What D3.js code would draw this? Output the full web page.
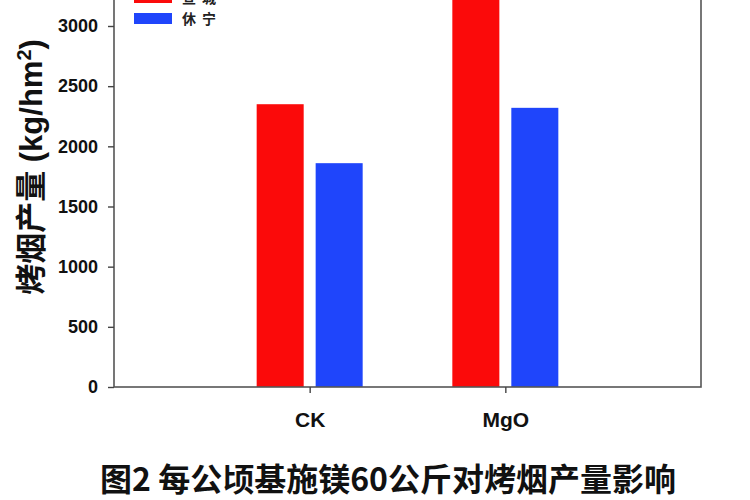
<!DOCTYPE html>
<html>
<head>
<meta charset="utf-8">
<script src="https://cdn.jsdelivr.net/npm/d3@7"></script>
<style>
  body { margin: 0; background: #fff; }
  svg { display: block; }
</style>
</head>
<body>
<div id="chart"></div>
<script>
const categories = ['CK', 'MgO'];
const seriesNames = ['宣城', '休宁'];
const xuanchengValues = [2350, 3400];
const xiuningValues = [1860, 2320];
const yTicks = [0, 500, 1000, 1500, 2000, 2500, 3000];
const titleText = '图2 每公顷基施镁60公斤对烤烟产量影响';

const color = d3.scaleOrdinal()
    .domain(seriesNames)
    .range(['#fb0a0a', '#1f45fb']);

const width = 750, height = 500;
const margin = { left: 114, right: 49, bottom: 113 };

const svg = d3.select('#chart')
    .append('svg')
    .attr('width', width)
    .attr('height', height);

// plot area is cropped at the top, 3000 sits near y=26
const y = d3.scaleLinear()
    .domain([0, 3500])
    .range([height - margin.bottom, height - margin.bottom - 3500 * (361 / 3000)]);

const x = d3.scalePoint()
    .domain(categories)
    .range([margin.left, width - margin.right])
    .padding(1);

const xSub = d3.scaleBand()
    .domain(seriesNames)
    .range([-53, 53])
    .paddingInner(0.203);

const rows = categories.map((c, i) => ({
    cat: c,
    values: [
        { name: seriesNames[0], value: xuanchengValues[i] },
        { name: seriesNames[1], value: xiuningValues[i] }
    ]
}));

svg.append('g')
    .selectAll('g')
    .data(rows)
    .enter()
    .append('g')
    .attr('transform', d => `translate(${x(d.cat)},0)`)
    .selectAll('rect')
    .data(d => d.values)
    .enter()
    .append('rect')
    .attr('x', d => xSub(d.name))
    .attr('width', xSub.bandwidth())
    .attr('y', d => y(d.value))
    .attr('height', d => y(0) - y(d.value))
    .attr('fill', d => color(d.name));

// frame
svg.append('rect')
    .attr('x', margin.left)
    .attr('y', y(3500))
    .attr('width', width - margin.right - margin.left)
    .attr('height', y(0) - y(3500))
    .attr('fill', 'none')
    .attr('stroke', '#555')
    .attr('stroke-width', 1.6);

const yAxis = svg.append('g')
    .attr('transform', `translate(${margin.left},0)`)
    .call(d3.axisLeft(y).tickValues(yTicks).tickFormat(d3.format('d')).tickSize(6).tickPadding(10));
yAxis.select('.domain').remove();
yAxis.selectAll('line').attr('stroke', '#444').attr('stroke-width', 1.4);
yAxis.selectAll('text')
    .attr('fill', '#111')
    .style('font-family', 'Liberation Sans, Arial, sans-serif')
    .style('font-size', '18px')
    .style('font-weight', 'bold');

const xAxis = svg.append('g')
    .attr('transform', `translate(0,${y(0)})`)
    .call(d3.axisBottom(x).tickSize(6).tickPadding(19));
xAxis.select('.domain').remove();
xAxis.selectAll('line').attr('stroke', '#444').attr('stroke-width', 1.4);
xAxis.selectAll('text')
    .attr('fill', '#111')
    .style('font-family', 'Liberation Sans, Arial, sans-serif')
    .style('font-size', '21px')
    .style('font-weight', 'bold');

// y label
const yLabel = svg.append('text')
    .attr('transform', 'translate(42,167) rotate(-90)')
    .attr('text-anchor', 'middle')
    .attr('fill', '#111')
    .style('font-family', 'Liberation Sans, "Noto Sans CJK SC", sans-serif')
    .style('font-size', '31px')
    .style('font-weight', 'bold');
yLabel.append('tspan').text('烤烟产量 (kg/hm');
yLabel.append('tspan').attr('dy', -11).style('font-size', '20px').text('2');
yLabel.append('tspan').attr('dy', 11).text(')');

// legend
const legend = svg.append('g');
legend.selectAll('rect')
    .data(seriesNames)
    .enter()
    .append('rect')
    .attr('x', 134)
    .attr('y', (d, i) => -8 + i * 21)
    .attr('width', 38)
    .attr('height', 11)
    .attr('fill', d => color(d));
legend.selectAll('text')
    .data(seriesNames)
    .enter()
    .append('text')
    .attr('x', 182)
    .attr('y', (d, i) => 3 + i * 21)
    .attr('fill', '#222')
    .style('font-family', '"Noto Sans CJK SC", sans-serif')
    .style('font-size', '14px')
    .style('font-weight', 'bold')
    .style('letter-spacing', '6px')
    .text(d => d);

// caption
svg.append('text')
    .attr('x', 388)
    .attr('y', 491)
    .attr('text-anchor', 'middle')
    .attr('fill', '#111')
    .style('font-family', '"Noto Sans CJK SC", sans-serif')
    .style('font-size', '32px')
    .style('font-weight', 'bold')
    .text(titleText);
</script>
</body>
</html>
